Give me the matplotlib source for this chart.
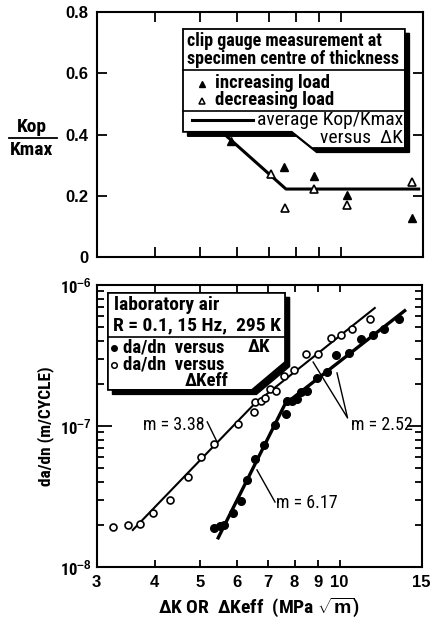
import numpy as np
import matplotlib
matplotlib.use("Agg")
import matplotlib.pyplot as plt
from matplotlib.patches import Polygon
from matplotlib.lines import Line2D
from matplotlib.ticker import FixedLocator, NullFormatter

plt.rcParams['font.family'] = ['Roboto Condensed', 'Liberation Sans Narrow', 'DejaVu Sans']
plt.rcParams['font.stretch'] = 'condensed'
plt.rcParams['font.weight'] = 'bold'
plt.rcParams['axes.labelweight'] = 'bold'
plt.rcParams['mathtext.fontset'] = 'custom'
plt.rcParams['mathtext.rm'] = 'Liberation Sans:bold'
plt.rcParams['mathtext.default'] = 'rm'

# --- top panel: Kop/Kmax versus dK ---
inc_dk = [5.81, 7.56, 8.77, 10.3, 14.2]
inc_ratio = [0.38, 0.294, 0.264, 0.202, 0.127]
dec_dk = [7.08, 7.6, 8.77, 10.3, 14.2]
dec_ratio = [0.27, 0.16, 0.222, 0.17, 0.245]
avg_dk = [5.36, 7.63, 14.7]
avg_ratio = [0.43, 0.222, 0.222]

# --- bottom panel: da/dn ---
dk = [5.36, 5.54, 5.65, 5.89, 6.12, 6.32, 6.56, 6.87, 7.25, 7.65, 7.71, 7.91,
      8.11, 8.24, 8.49, 8.92, 9.41, 9.80, 10.48, 11.14, 11.77, 12.43, 13.39]
dadn_dk = [1.90e-8, 1.95e-8, 1.97e-8, 2.42e-8, 2.93e-8, 4.17e-8, 5.87e-8, 7.30e-8,
           1.02e-7, 1.22e-7, 1.51e-7, 1.50e-7, 1.55e-7, 1.74e-7, 1.78e-7, 2.19e-7,
           2.40e-7, 3.20e-7, 3.29e-7, 4.13e-7, 4.43e-7, 4.86e-7, 5.75e-7]
dkeff = [3.26, 3.50, 3.72, 3.96, 4.32, 4.72, 5.04, 5.38, 6.05, 6.54, 6.57, 6.78,
         6.92, 7.10, 7.31, 7.60, 7.97, 8.45, 8.98, 9.57, 10.05, 10.62, 11.63]
dadn_eff = [1.93e-8, 2.0e-8, 2.03e-8, 2.42e-8, 3.01e-8, 4.36e-8, 6.04e-8, 7.46e-8,
            1.03e-7, 1.25e-7, 1.47e-7, 1.50e-7, 1.57e-7, 1.83e-7, 1.78e-7, 2.25e-7,
            2.48e-7, 3.25e-7, 3.25e-7, 4.24e-7, 4.43e-7, 4.86e-7, 5.78e-7]
fit_eff_x = [3.59, 6.55, 11.9]
fit_eff_y = [1.83e-8, 1.43e-7, 6.87e-7]
fit_dk_x = [5.48, 7.63, 13.8]
fit_dk_y = [1.61e-8, 1.43e-7, 6.57e-7]

xticks = [3, 4, 5, 6, 7, 8, 9, 10, 15]

fig = plt.figure(figsize=(4.31, 6.2), dpi=100)
ax1 = fig.add_axes([0.225, 0.5855, 0.756, 0.395])
ax2 = fig.add_axes([0.224, 0.0855, 0.754, 0.4548])
ax2.set_yscale('log')

for ax in (ax1, ax2):
    ax.set_xscale('log')
    ax.set_xlim(3, 15)
    ax.xaxis.set_major_locator(FixedLocator(xticks))
    ax.xaxis.set_minor_locator(FixedLocator([]))
    for s in ax.spines.values():
        s.set_linewidth(1.5)

# top panel
ax1.set_ylim(0, 0.8)
ax1.set_yticks([0, 0.2, 0.4, 0.6, 0.8])
ax1.set_yticklabels(['0', '0.2', '0.4', '0.6', '0.8'], fontfamily='Liberation Sans', fontstretch='normal')
ax1.xaxis.set_major_formatter(NullFormatter())
ax1.tick_params(which='both', direction='in', top=True, right=True, width=1.3)
ax1.tick_params(which='major', length=7, labelsize=12, pad=6)
ax1.plot(avg_dk, avg_ratio, color='black', lw=2.2, zorder=2)
ax1.plot(inc_dk, inc_ratio, '^', color='black', ms=6, zorder=3)
ax1.plot(dec_dk, dec_ratio, '^', mfc='white', mec='black', mew=1.2, ms=6, zorder=3)

# boxed key, top panel
tr = ax1.transAxes
box1 = [(0.264, 0.931), (0.945, 0.931), (0.945, 0.445), (0.660, 0.445), (0.598, 0.511), (0.264, 0.511)]
shadow1 = [(x + 0.014, y - 0.018) for x, y in box1]
ax1.add_patch(Polygon(shadow1, closed=True, fc='black', ec='black', transform=tr, zorder=4))
ax1.add_patch(Polygon(box1, closed=True, fc='white', ec='black', lw=1.3, transform=tr, zorder=5))
ax1.add_line(Line2D([0.264, 0.945], [0.763, 0.763], color='black', lw=1.2, transform=tr, zorder=6))
ax1.add_line(Line2D([0.264, 0.945], [0.597, 0.597], color='black', lw=1.2, transform=tr, zorder=6))
ax1.text(0.277, 0.881, 'clip gauge measurement at', transform=tr, fontsize=13, va='center', zorder=7)
ax1.text(0.277, 0.809, 'specimen centre of thickness', transform=tr, fontsize=13, va='center', zorder=7)
ax1.plot([0.322], [0.708], '^', color='black', ms=5, transform=tr, zorder=7, clip_on=False)
ax1.plot([0.322], [0.638], '^', mfc='white', mec='black', mew=1.1, ms=5, transform=tr, zorder=7, clip_on=False)
ax1.text(0.362, 0.711, 'increasing load', transform=tr, fontsize=13.5, va='center', zorder=7)
ax1.text(0.362, 0.641, 'decreasing load', transform=tr, fontsize=13.5, va='center', zorder=7)
ax1.add_line(Line2D([0.291, 0.479], [0.559, 0.559], color='black', lw=2.2, transform=tr, zorder=7))
ax1.text(0.939, 0.559, 'average Kop/Kmax', transform=tr, fontsize=14, fontweight='normal',
         va='center', ha='right', zorder=7)
ax1.text(0.939, 0.486, 'versus  \u0394K', transform=tr, fontsize=14, fontweight='normal',
         va='center', ha='right', zorder=7)

fig.text(32 / 431, 1 - 127 / 620, 'Kop', fontsize=14, ha='center', va='center')
fig.add_artist(Line2D([9 / 431, 57 / 431], [1 - 138 / 620, 1 - 138 / 620], color='black', lw=1.3))
fig.text(32 / 431, 1 - 150 / 620, 'Kmax', fontsize=14, ha='center', va='center')

# bottom panel
ax2.set_ylim(1e-8, 1e-6)
ax2.yaxis.set_major_locator(FixedLocator([1e-8, 1e-7, 1e-6]))
ax2.set_yticklabels([r'10$^{-8}$', r'10$^{-7}$', r'10$^{-6}$'])
ax2.yaxis.set_minor_locator(FixedLocator([m * 10.0 ** e for e in (-8, -7) for m in range(2, 10)]))
ax2.yaxis.set_minor_formatter(NullFormatter())
ax2.set_xticklabels([str(t) for t in xticks], fontfamily='Liberation Sans', fontstretch='normal')
ax2.tick_params(which='both', direction='in', top=True, right=True, width=1.3)
ax2.tick_params(axis='y', which='major', length=11, labelsize=12)
ax2.tick_params(axis='y', which='minor', length=5)
ax2.tick_params(axis='x', which='major', length=5, pad=6, labelsize=12)

ax2.plot(fit_eff_x, fit_eff_y, color='black', lw=1.5, zorder=2)
ax2.plot(fit_dk_x, fit_dk_y, color='black', lw=2.4, zorder=2)
ax2.plot(dkeff, dadn_eff, 'o', mfc='white', mec='black', mew=1.2, ms=5, zorder=3)
ax2.plot(dk, dadn_dk, 'o', color='black', ms=5.5, zorder=3)

ax2.text(5.12, 1.02e-7, 'm = 3.38', fontsize=13, fontweight='normal', ha='right', va='center')
ax2.plot([5.19, 5.45], [1.07e-7, 7.7e-8], color='black', lw=1)
ax2.text(7.3, 2.84e-8, 'm = 6.17', fontsize=13, fontweight='normal', ha='left', va='center')
ax2.plot([7.26, 6.64], [2.89e-8, 4.88e-8], color='black', lw=1)
ax2.text(10.6, 1.02e-7, 'm = 2.52', fontsize=13, fontweight='normal', ha='left', va='center')
ax2.plot([8.77, 10.4, 9.87], [2.84e-7, 1.14e-7, 2.38e-7], color='black', lw=1)

# boxed key, bottom panel
tr2 = ax2.transAxes
box2 = [(0.035, 0.972), (0.580, 0.972), (0.580, 0.727), (0.478, 0.628), (0.035, 0.628)]
shadow2 = [(x + 0.014, y - 0.016) for x, y in box2]
ax2.add_patch(Polygon(shadow2, closed=True, fc='black', ec='black', transform=tr2, zorder=4))
ax2.add_patch(Polygon(box2, closed=True, fc='white', ec='black', lw=1.3, transform=tr2, zorder=5))
ax2.add_line(Line2D([0.035, 0.580], [0.816, 0.816], color='black', lw=1.2, transform=tr2, zorder=6))
ax2.text(0.055, 0.928, 'laboratory air', transform=tr2, fontsize=14, va='center', zorder=7)
ax2.text(0.052, 0.858, 'R = 0.1, 15 Hz,  295 K', transform=tr2, fontsize=14, va='center', zorder=7)
ax2.plot([0.053], [0.777], 'o', color='black', ms=4, transform=tr2, zorder=7)
ax2.plot([0.053], [0.715], 'o', mfc='white', mec='black', mew=1.1, ms=4, transform=tr2, zorder=7)
ax2.text(0.080, 0.779, 'da/dn  versus', transform=tr2, fontsize=13.5, va='center', zorder=7)
ax2.text(0.466, 0.779, '\u0394K', transform=tr2, fontsize=13.5, va='center', zorder=7)
ax2.text(0.080, 0.718, 'da/dn  versus', transform=tr2, fontsize=13.5, va='center', zorder=7)
ax2.text(0.272, 0.658, '\u0394Keff', transform=tr2, fontsize=13.5, va='center', zorder=7)

ax2.set_ylabel('da/dn (m/CYCLE)', fontsize=12.5, labelpad=4)
ax2.set_xlabel('\u0394K OR  \u0394Keff  (MPa $\\sqrt{m}$)', fontsize=14, labelpad=4)

fig.savefig('out.png', dpi=100)
